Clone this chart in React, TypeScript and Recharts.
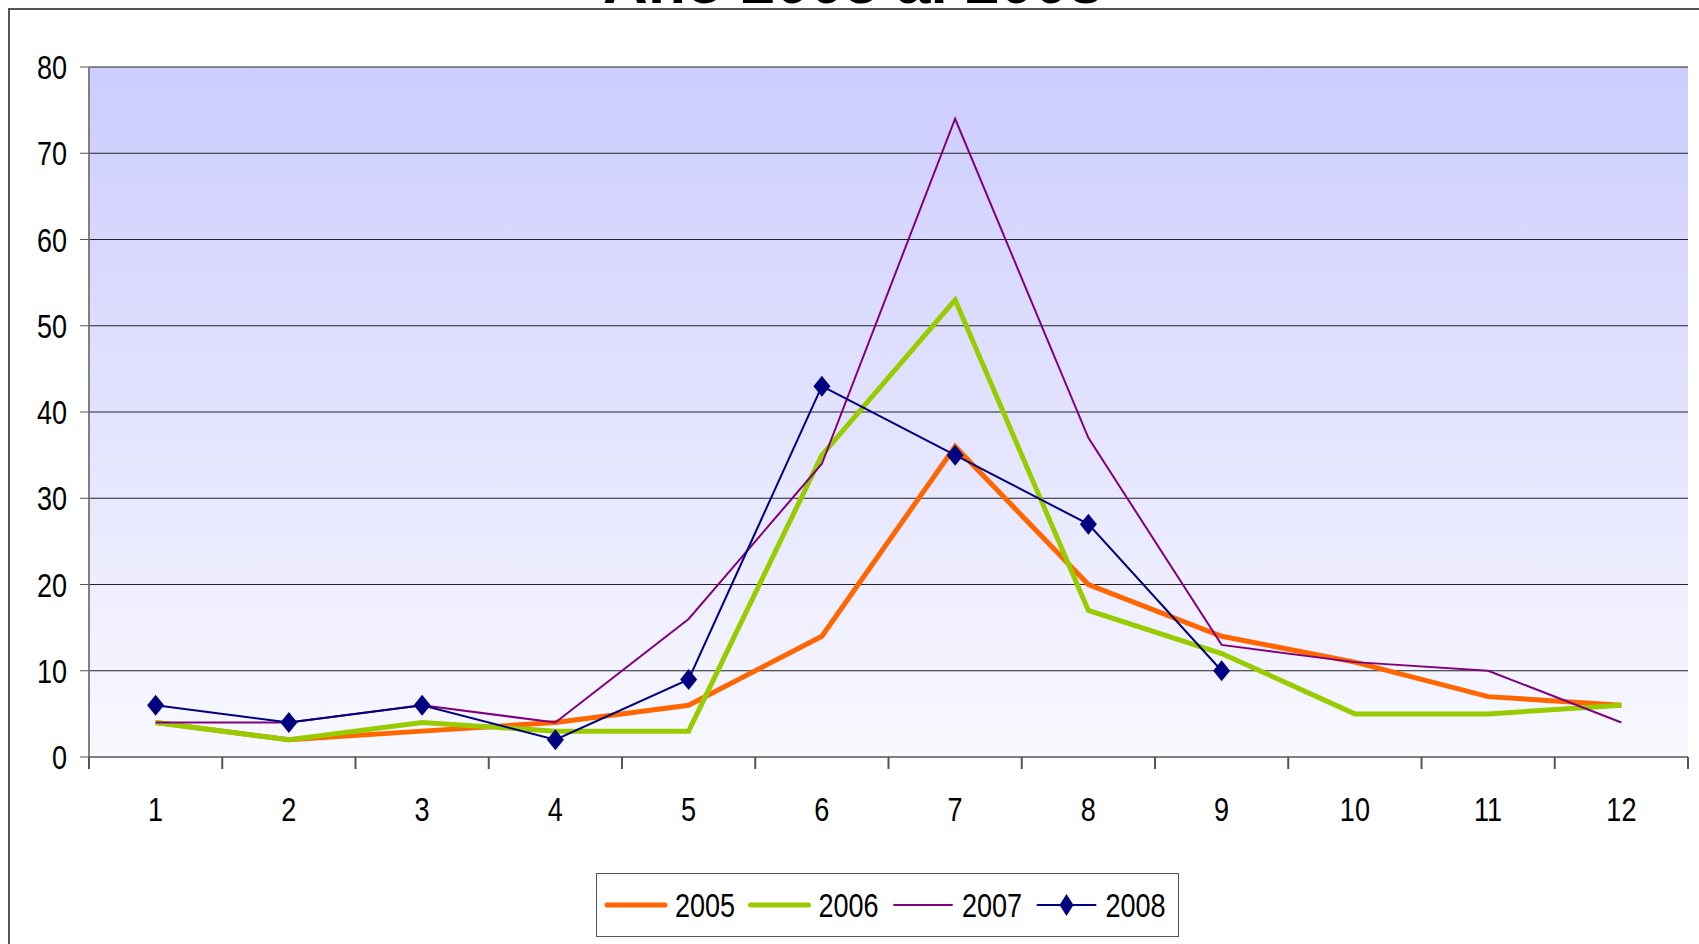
import { LineChart, Line, XAxis, YAxis, CartesianGrid } from 'recharts';

const months = [1, 2, 3, 4, 5, 6, 7, 8, 9, 10, 11, 12];
const y2005 = [4, 2, 3, 4, 6, 14, 36, 20, 14, 11, 7, 6];
const y2006 = [4, 2, 4, 3, 3, 35, 53, 17, 12, 5, 5, 6];
const y2007 = [4, 4, 6, 4, 16, 34, 74, 37, 13, 11, 10, 4];
const y2008 = [6, 4, 6, 2, 9, 43, 35, 27, 10, null, null, null];
const yTicks = [0, 10, 20, 30, 40, 50, 60, 70, 80];
// integer ticks carry the labels, half steps carry the tick marks between months
const xTicks = [0.5, 1, 1.5, 2, 2.5, 3, 3.5, 4, 4.5, 5, 5.5, 6, 6.5, 7, 7.5, 8, 8.5, 9, 9.5, 10, 10.5, 11, 11.5, 12, 12.5];

const chartData = months.map((m, i) => ({
  month: m,
  y2005: y2005[i],
  y2006: y2006[i],
  y2007: y2007[i],
  y2008: y2008[i],
}));

const FONT = '"Liberation Sans", Arial, sans-serif';
const SQUEEZE = 0.82; // the original uses a narrow face

const legendItems = [
  { name: '2005', color: '#FF6600', width: 5, diamond: false },
  { name: '2006', color: '#99CC00', width: 5, diamond: false },
  { name: '2007', color: '#800080', width: 2, diamond: false },
  { name: '2008', color: '#000080', width: 2, diamond: true },
];

function MonthTick({ x, y, payload }: any) {
  const v = payload.value;
  if (Number.isInteger(v)) {
    return (
      <text
        transform={`translate(${x},${y + 64}) scale(${SQUEEZE},1)`}
        textAnchor="middle"
        fontSize={33}
        fontFamily={FONT}
        fill="#000"
      >
        {v}
      </text>
    );
  }
  return <line x1={x} y1={y} x2={x} y2={y + 12} stroke="#555" strokeWidth={2} />;
}

function ValueTick({ x, y, payload }: any) {
  return (
    <text
      transform={`translate(${x},${y + 12}) scale(${SQUEEZE},1)`}
      textAnchor="end"
      fontSize={33}
      fontFamily={FONT}
      fill="#000"
    >
      {payload.value}
    </text>
  );
}

function Diamond({ cx, cy }: any) {
  if (cx == null || cy == null) return null;
  return (
    <polygon
      points={`${cx},${cy - 10.5} ${cx + 8.5},${cy} ${cx},${cy + 10.5} ${cx - 8.5},${cy}`}
      fill="#000080"
    />
  );
}

export default function App() {
  return (
    <div style={{ position: 'fixed', left: 0, top: 0, width: 1699, height: 944, overflow: 'hidden', background: '#fff' }}>
      <div
        style={{
          position: 'absolute',
          left: 8,
          top: 8,
          width: 1720,
          height: 960,
          border: '2px solid #555',
        }}
      />
      <svg width={1699} height={20} style={{ position: 'absolute', left: 0, top: 0 }}>
        <text x={853} y={3} textAnchor="middle" fontSize={62} fontWeight="bold" fontFamily={FONT} fill="#000">
          Año 2005 al 2008
        </text>
      </svg>
      <div style={{ position: 'absolute', left: 0, top: 0 }}>
        <LineChart width={1699} height={944} data={chartData} margin={{ top: 67, right: 11, left: 0, bottom: 127 }}>
          <defs>
            <linearGradient id="plotBg" x1="0" y1="0" x2="0" y2="1">
              <stop offset="0%" stopColor="#CCCCFF" />
              <stop offset="100%" stopColor="#F9F9FF" />
            </linearGradient>
          </defs>
          <CartesianGrid vertical={false} stroke="#222" strokeWidth={1} fill="url(#plotBg)" fillOpacity={1} />
          <XAxis
            dataKey="month"
            type="number"
            domain={[0.5, 12.5]}
            ticks={xTicks}
            interval={0}
            tick={<MonthTick />}
            tickLine={false}
            tickSize={0}
            tickMargin={0}
            height={60}
            axisLine={{ stroke: '#808080', strokeWidth: 2 }}
          />
          <XAxis xAxisId="top" orientation="top" dataKey="month" type="number" domain={[0.5, 12.5]} tick={false} tickLine={false} height={0} axisLine={{ stroke: '#808080', strokeWidth: 3 }} />
          <YAxis
            domain={[0, 80]}
            ticks={yTicks}
            interval={0}
            width={89}
            tickSize={9}
            tickMargin={13}
            tick={<ValueTick />}
            tickLine={{ stroke: '#555', strokeWidth: 1 }}
            axisLine={{ stroke: '#808080', strokeWidth: 2 }}
          />
          <YAxis yAxisId="right" orientation="right" domain={[0, 80]} tick={false} tickLine={false} width={0} axisLine={{ stroke: '#808080', strokeWidth: 2 }} />
          <Line dataKey="y2005" name="2005" stroke="#FF6600" strokeWidth={5} dot={false} isAnimationActive={false} />
          <Line dataKey="y2006" name="2006" stroke="#99CC00" strokeWidth={5} dot={false} isAnimationActive={false} />
          <Line dataKey="y2007" name="2007" stroke="#800080" strokeWidth={2} dot={false} isAnimationActive={false} />
          <Line dataKey="y2008" name="2008" stroke="#000080" strokeWidth={2} dot={<Diamond />} activeDot={false} isAnimationActive={false} />
        </LineChart>
      </div>
      <div
        style={{
          position: 'absolute',
          left: 596,
          top: 873,
          width: 583,
          height: 64,
          border: '1px solid #555',
          background: '#fff',
          boxSizing: 'border-box',
        }}
      >
        <svg width={581} height={62}>
          {legendItems.map((it, i) => {
            const x0 = 10 + i * 143.5;
            return (
              <g key={it.name}>
                <line x1={x0} y1={31} x2={x0 + 58} y2={31} stroke={it.color} strokeWidth={it.width} strokeLinecap="round" />
                {it.diamond && (
                  <polygon points={`${x0 + 29},${20} ${x0 + 36},${31} ${x0 + 29},${42} ${x0 + 22},${31}`} fill={it.color} />
                )}
                <text
                  transform={`translate(${x0 + 68},${43}) scale(${SQUEEZE},1)`}
                  fontSize={33}
                  fontFamily={FONT}
                  fill="#000"
                >
                  {it.name}
                </text>
              </g>
            );
          })}
        </svg>
      </div>
    </div>
  );
}
